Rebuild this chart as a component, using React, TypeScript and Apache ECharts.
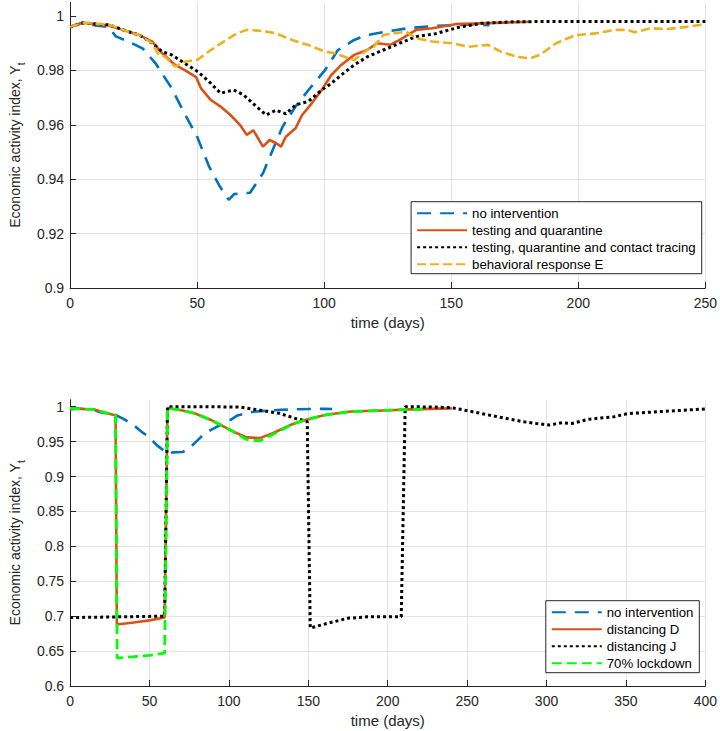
import React, { useEffect, useRef } from "react";
import * as echarts from "echarts";

// ---------- data (days, index) ----------
const noIntervention: [number, number][] = [
  [0, 0.996], [5, 0.9975], [10, 0.9965], [15, 0.996], [18, 0.9925], [23, 0.9906],
  [28.5, 0.9881], [33.6, 0.9826], [40, 0.9734], [45, 0.9642], [50, 0.9556],
  [54.7, 0.9446], [59, 0.9372], [62.4, 0.9324], [64.5, 0.9345], [66.9, 0.9348],
  [70.8, 0.935], [75.9, 0.9422], [79.7, 0.9507], [83.6, 0.9593], [88.7, 0.9667],
  [93.8, 0.9728], [100.3, 0.9801], [105.4, 0.9875], [111.8, 0.9912], [116.9, 0.993],
  [124, 0.9942], [132.9, 0.9955], [142.6, 0.9963], [154, 0.9967], [160, 0.9969], [165, 0.9966],
];

const testingQuarantine: [number, number][] = [
  [0, 0.996], [5, 0.9975], [10, 0.997], [15, 0.9965], [20.8, 0.9949], [27.2, 0.993],
  [32.3, 0.9906], [36.2, 0.9863], [41.3, 0.982], [45.1, 0.9801], [49.6, 0.9775],
  [51.5, 0.9734], [55.4, 0.9691], [59.2, 0.9667], [63.1, 0.9636], [66.9, 0.9599],
  [69.5, 0.9563], [72.1, 0.958], [75.9, 0.952], [78.5, 0.9544], [81, 0.9533],
  [83, 0.952], [84.9, 0.9556], [88.7, 0.9587], [91.3, 0.9636], [95.1, 0.9679],
  [99, 0.9728], [102.8, 0.9783], [106.7, 0.982], [111.8, 0.9857], [116.9, 0.9875],
  [120.8, 0.99], [125.9, 0.9894], [129.7, 0.9912], [136.2, 0.9949], [142.6, 0.9955],
  [151.5, 0.997], [161.8, 0.9973], [181, 0.9979],
];

const contactTracing: [number, number][] = [
  [0, 0.996], [5, 0.9975], [15.6, 0.9967], [22, 0.9945], [27.2, 0.993], [32.3, 0.99],
  [36.2, 0.9869], [40, 0.9857], [45.1, 0.9826], [50.3, 0.9795], [55.4, 0.9752],
  [59.2, 0.9716], [64.4, 0.9728], [68.2, 0.971], [73.3, 0.9667], [77.2, 0.9636],
  [81, 0.9654], [84.9, 0.964], [88.7, 0.9673], [93.8, 0.9686], [99, 0.9728],
  [102.8, 0.9752], [106.7, 0.9783], [111.8, 0.982], [116.9, 0.985], [123.3, 0.9875],
  [129.7, 0.99], [136.2, 0.9924], [143.8, 0.9935], [152.8, 0.9958], [161.8, 0.9973],
  [174.6, 0.9979], [200, 0.998], [250, 0.998],
];

const behavioralE: [number, number][] = [
  [0, 0.996], [5, 0.9975], [15.6, 0.9967], [22, 0.9945], [27.2, 0.993], [32.3, 0.99],
  [34.9, 0.9857], [37.4, 0.985], [41.3, 0.9814], [45.1, 0.9832], [50.3, 0.984],
  [55.4, 0.9875], [60.5, 0.9906], [65.6, 0.9936], [69.5, 0.9949], [75.9, 0.9945],
  [81, 0.9936], [87.4, 0.9912], [93.8, 0.9893], [100.3, 0.9869], [104.1, 0.9863],
  [108, 0.985], [111.8, 0.9838], [114.4, 0.9857], [116.9, 0.9875], [119.5, 0.9887],
  [123.3, 0.993], [127.2, 0.9936], [132.3, 0.9942], [136.2, 0.9918], [142.6, 0.9906],
  [150.3, 0.99], [156.7, 0.9887], [164.4, 0.9894], [169.5, 0.9869], [175.9, 0.985],
  [181, 0.9844], [184.9, 0.9857], [191.3, 0.99], [199, 0.993], [206.7, 0.9936],
  [214.4, 0.9949], [219.5, 0.9949], [222.1, 0.994], [228.5, 0.9955], [234.9, 0.9952],
  [242.6, 0.996], [250, 0.997],
];

const distancingD: [number, number][] = [
  [0, 0.9975], [15, 0.996], [22, 0.9914], [27, 0.9885], [28.6, 0.988], [29.4, 0.688],
  [40, 0.691], [50, 0.694], [59.5, 0.698], [61.3, 0.998], [70, 0.995], [78.4, 0.9905],
  [88.6, 0.981], [98.9, 0.969], [105, 0.962], [111.2, 0.956], [119.4, 0.955],
  [127.6, 0.962], [139.9, 0.975], [148.1, 0.981], [160.4, 0.988], [176.8, 0.993],
  [201.4, 0.995], [213.7, 0.9962], [240.4, 0.9976],
];

const distancingJ: [number, number][] = [
  [0, 0.698], [30, 0.699], [59.5, 0.7], [61.3, 1.0], [80, 1.0], [107, 0.9995],
  [119.4, 0.995], [131.7, 0.9905], [142, 0.983], [148.1, 0.98], [149.3, 0.9785],
  [151.2, 0.683], [162.5, 0.69], [174.8, 0.697], [187.1, 0.699], [208.5, 0.699],
  [211, 1.0], [227.9, 0.9995], [240.2, 0.9986], [248.4, 0.995], [268.9, 0.9857],
  [285.3, 0.9785], [293.5, 0.976], [301.7, 0.9737], [309.9, 0.977], [316.1, 0.976],
  [326.3, 0.982], [342.7, 0.9857], [350.9, 0.99], [371.4, 0.993], [400, 0.9967],
];

const lockdown70: [number, number][] = [
  [0, 0.9975], [15, 0.996], [22, 0.9914], [27, 0.9885], [28.6, 0.988], [29.6, 0.64],
  [40, 0.642], [50, 0.644], [59.5, 0.647], [61.3, 0.998], [70, 0.995], [78.4, 0.9905],
  [88.6, 0.981], [98.9, 0.969], [105, 0.961], [111.2, 0.953], [119.4, 0.951],
  [127.6, 0.96], [139.9, 0.975], [148.1, 0.981], [160.4, 0.988], [176.8, 0.993],
  [201.4, 0.995], [222, 0.9965],
];

const topYTicks = [0.9, 0.92, 0.94, 0.96, 0.98, 1];
const bottomYTicks = [0.6, 0.65, 0.7, 0.75, 0.8, 0.85, 0.9, 0.95, 1];

const topLegend = [
  "no intervention",
  "testing and quarantine",
  "testing, quarantine and contact tracing",
  "behavioral response E",
];
const bottomLegend = ["no intervention", "distancing D", "distancing J", "70% lockdown"];

// ---------- styling ----------
const FONT = "'Liberation Sans', Arial, Helvetica, sans-serif";
const AX = "#262626";
const GRIDC = "#e3e3e3";
const BLUE = "#0072BD";
const ORANGE = "#D95319";
const YELLOW = "#EDB120";
const GREEN = "#00FF00";

function xAxisCfg(gridIndex: number, max: number) {
  return {
    type: "value",
    gridIndex,
    min: 0,
    max,
    interval: 50,
    axisLine: { show: true, onZero: false, lineStyle: { color: AX, width: 1 } },
    axisTick: { show: true, inside: true, length: 6, lineStyle: { color: AX } },
    axisLabel: { color: AX, fontSize: 14, fontFamily: FONT, margin: 8 },
    splitLine: { show: true, lineStyle: { color: GRIDC, width: 1 } },
    name: "time (days)",
    nameLocation: "middle",
    nameGap: 27,
    nameTextStyle: { color: AX, fontSize: 15, fontFamily: FONT },
  };
}

function yAxisCfg(gridIndex: number, min: number, max: number, interval: number, ticks: number[]) {
  return {
    type: "value",
    gridIndex,
    min,
    max,
    interval,
    axisLine: { show: true, onZero: false, lineStyle: { color: AX, width: 1 } },
    axisTick: { show: true, inside: true, length: 6, lineStyle: { color: AX }, customValues: ticks },
    axisLabel: {
      color: AX,
      fontSize: 14,
      fontFamily: FONT,
      margin: 6,
      customValues: ticks,
      formatter: (v: number) => String(parseFloat(Number(v).toFixed(3))),
    },
    splitLine: { show: true, showMaxLine: false, lineStyle: { color: GRIDC, width: 1 } },
    name: "{m|Economic activity index, Y}{s|t}",
    nameLocation: "middle",
    nameGap: 34,
    nameRotate: 90,
    nameTextStyle: {
      color: AX,
      fontFamily: FONT,
      rich: {
        m: { fontSize: 14, lineHeight: 22, color: AX, fontFamily: FONT },
        s: { fontSize: 10, lineHeight: 12, verticalAlign: "bottom", color: AX, fontFamily: FONT },
      },
    },
  };
}

function lineSeries(
  name: string,
  data: [number, number][],
  idx: number,
  color: string,
  dash: number[] | "solid",
  width: number,
  z: number
) {
  return {
    type: "line",
    name,
    data,
    xAxisIndex: idx,
    yAxisIndex: idx,
    symbol: "none",
    showSymbol: false,
    color,
    itemStyle: { color },
    lineStyle: { color, width, type: dash, cap: "butt" },
    z,
    silent: true,
  };
}

function legendCfg(data: string[], right: number, top: number) {
  return {
    data,
    orient: "vertical",
    right,
    top,
    itemWidth: 50,
    itemHeight: 14,
    itemGap: 4,
    padding: [5, 6, 3, 5],
    borderColor: AX,
    borderWidth: 1,
    borderRadius: 0,
    backgroundColor: "#fff",
    selectedMode: false,
    itemStyle: { opacity: 0 },
    textStyle: { fontSize: 13.2, color: "#000", fontFamily: FONT },
  };
}

export default function App() {
  const ref = useRef<HTMLDivElement>(null);

  useEffect(() => {
    if (!ref.current) return;
    const chart = echarts.init(ref.current, null, { renderer: "svg" });
    const option: any = {
      animation: false,
      backgroundColor: "#fff",
      textStyle: { fontFamily: FONT },
      grid: [
        { left: 56, right: 13.3, top: 2.4, bottom: 443, containLabel: false },
        { left: 56, right: 13.3, top: 399.7, bottom: 45, containLabel: false },
      ],
      xAxis: [xAxisCfg(0, 250), xAxisCfg(1, 400)],
      yAxis: [yAxisCfg(0, 0.9, 1.005, 0.02, topYTicks), yAxisCfg(1, 0.6, 1.01, 0.05, bottomYTicks)],
      legend: [legendCfg(topLegend, 18.3, 201.7), legendCfg(bottomLegend, 20.7, 600.7)],
      series: [
        lineSeries("no intervention", noIntervention, 0, BLUE, [14, 9], 2.6, 2),
        lineSeries("testing and quarantine", testingQuarantine, 0, ORANGE, "solid", 2.6, 3),
        lineSeries("testing, quarantine and contact tracing", contactTracing, 0, "#000", [3, 3], 3, 4),
        lineSeries("behavioral response E", behavioralE, 0, YELLOW, [9, 4], 2.6, 5),
        lineSeries("no intervention", noIntervention, 1, BLUE, [14, 9], 2.6, 2),
        lineSeries("distancing D", distancingD, 1, ORANGE, "solid", 2.6, 3),
        lineSeries("distancing J", distancingJ, 1, "#000", [3, 3], 3, 4),
        lineSeries("70% lockdown", lockdown70, 1, GREEN, [10, 5], 2.8, 5),
      ],
    };
    chart.setOption(option);
    return () => chart.dispose();
  }, []);

  return (
    <div
      ref={ref}
      style={{ position: "fixed", left: 0, top: 0, width: 720, height: 731, background: "#fff" }}
    />
  );
}
